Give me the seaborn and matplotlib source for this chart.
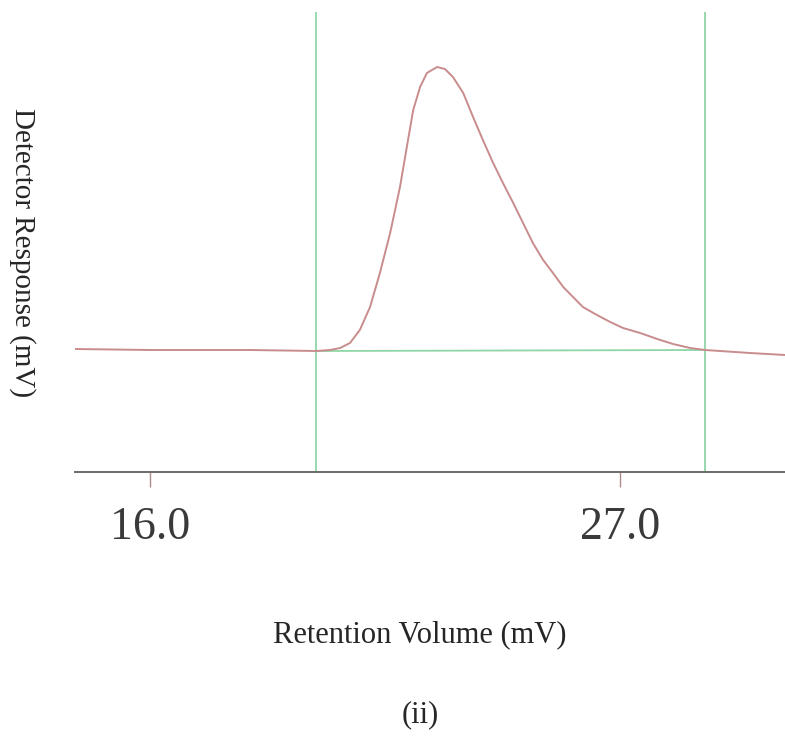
import numpy as np
import pandas as pd
import matplotlib
matplotlib.use("Agg")
import matplotlib.pyplot as plt
import seaborn as sns

# chromatogram trace (retention volume vs detector response)
retention = [14.25, 16.0, 18.34, 19.89, 20.21, 20.45, 20.68, 20.91, 21.15, 21.38,
             21.62, 21.85, 22.01, 22.16, 22.32, 22.48, 22.72, 22.90, 23.09, 23.33,
             23.56, 23.79, 24.03, 24.26, 24.50, 24.73, 24.96, 25.20, 25.43, 25.67,
             25.90, 26.13, 26.46, 26.77, 27.07, 27.47, 27.87, 28.24, 28.64, 28.99,
             29.34, 30.04, 30.86]
response = [12.3, 12.2, 12.2, 12.1, 12.2, 12.4, 12.9, 14.2, 16.5, 19.9,
            23.9, 28.5, 32.5, 36.2, 38.5, 39.9, 40.5, 40.3, 39.5, 37.9,
            35.5, 33.2, 30.9, 28.9, 26.9, 24.9, 22.9, 21.2, 19.9, 18.5,
            17.5, 16.5, 15.7, 15.0, 14.4, 13.9, 13.3, 12.8, 12.4, 12.2,
            12.1, 11.9, 11.7]

# integration limits and baseline
limits = [19.885, 28.99]
baseline = [12.1, 12.2]

tick_pos = [16.0, 27.0]
tick_labels = ["16.0", "27.0"]

df = pd.DataFrame({"Retention Volume": retention, "Response": response})

sns.set_style("white")
plt.rcParams["font.family"] = ["Liberation Serif", "DejaVu Serif"]

fig = plt.figure(figsize=(7.85, 7.51), dpi=100)
ax = fig.add_axes([75 / 785, 279 / 751, 710 / 785, 472 / 751])

ax.vlines(limits, 0, 46.0, color="#8ed6a6", lw=1.3, zorder=1)
ax.plot(limits, baseline, color="#8ed6a6", lw=1.3, zorder=1)
sns.lineplot(data=df, x="Retention Volume", y="Response", ax=ax,
             color="#c98c8c", lw=1.4, zorder=2)

ax.set_xlim(14.245, 30.86)
ax.set_ylim(0, 47.2)

for side in ["top", "right", "left"]:
    ax.spines[side].set_visible(False)
ax.spines["bottom"].set_color("#6a6a6a")
ax.spines["bottom"].set_linewidth(1.4)

ax.set_yticks([])
ax.set_xticks(tick_pos)
ax.set_xticklabels(tick_labels, fontsize=33, color="#3a3a3a")
ax.tick_params(axis="x", direction="out", length=11, width=1.0,
               color="#b08a8a", pad=14, bottom=True)

ax.set_xlabel("Retention Volume (mV)", fontsize=22, va="center")
ax.xaxis.set_label_coords((420 - 75) / 710, (472 - 635) / 472)
ax.set_ylabel("Detector Response (mV)", fontsize=21, rotation=-90, va="center")
ax.yaxis.set_label_coords((22 - 75) / 710, (472 - 253) / 472)

fig.text(420 / 785, 1 - 715 / 751, "(ii)", fontsize=22, ha="center", va="center")

fig.savefig("out.png", dpi=100)
